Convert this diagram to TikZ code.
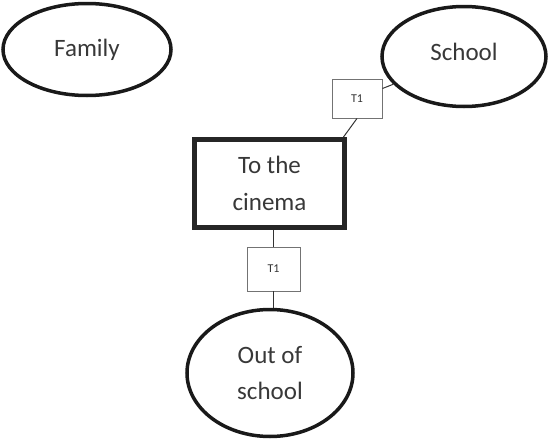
\documentclass[tikz,border=0pt]{standalone}
\usepackage{fontspec}
\setmainfont{Carlito}
\usetikzlibrary{shapes.geometric,calc}
\begin{document}
\begin{tikzpicture}[x=1pt,y=-1pt,
  place/.style={ellipse,draw=black!90,line width=3.5pt,inner sep=0pt,
    text=black!78,font=\fontsize{25}{36}\selectfont,align=center},
  actbox/.style={rectangle,draw=black!85,line width=5pt,inner sep=0pt,
    text=black!78,font=\fontsize{25}{37}\selectfont,align=center,
    minimum width=150pt,minimum height=88pt},
  tbox/.style={rectangle,draw=black!55,line width=0.9pt,inner sep=0pt,
    text=black!80,font=\fontsize{12}{13}\selectfont},
  link/.style={draw=black!80,line width=1pt}]
\useasboundingbox (0,0) rectangle (550,442);
\node[place,minimum width=168pt,minimum height=92pt] (family) at (87,49.5) {Family};
\node[place,minimum width=164pt,minimum height=100pt,text depth=10pt] (school) at (464,56.5) {School};
\node[actbox] (cinema) at (269.5,183.5) {To the\\cinema};
\node[tbox,minimum width=50pt,minimum height=39pt] (t1a) at (357,98.5) {T1};
\node[tbox,minimum width=53pt,minimum height=44pt] (t1b) at (273.5,269) {T1};
\node[place,minimum width=166pt,minimum height=127pt] (out) at (270,373) {Out of\\school};
\draw[link] ([yshift=10pt]t1a.east) -- (school);
\draw[link] (t1a.south) -- ([xshift=-3.5pt]cinema.north east);
\draw[link] (t1b.north) -- (t1b.north |- cinema.south);
\draw[link] (t1b.south) -- (t1b.south |- out.north);
\end{tikzpicture}
\end{document}
